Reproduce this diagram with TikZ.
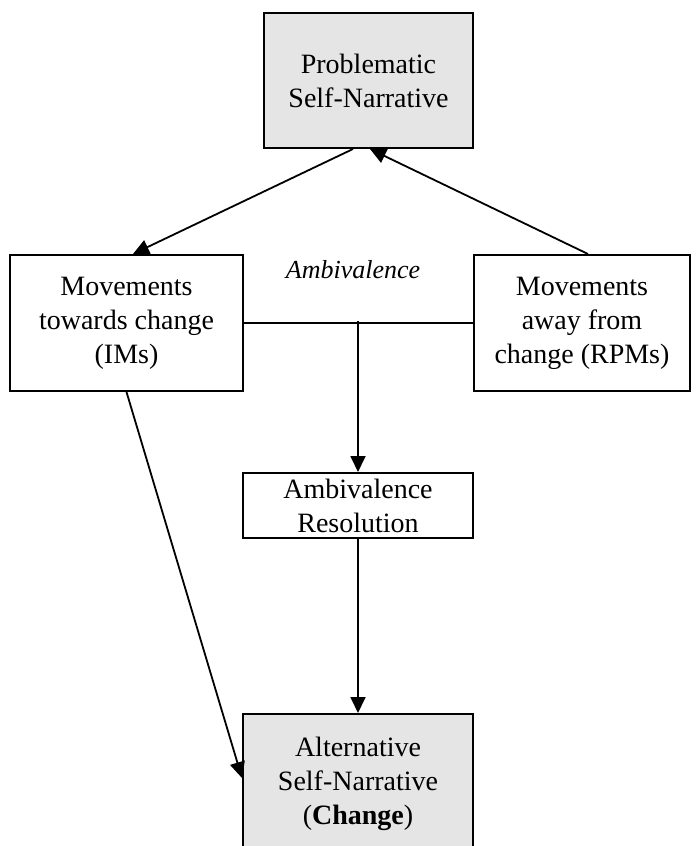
\documentclass[tikz,border=0pt]{standalone}
\usepackage{fontspec}
\setmainfont{Liberation Serif}
\usetikzlibrary{arrows.meta}
\begin{document}
\begin{tikzpicture}[x=0.5pt,y=-0.5pt,
  box/.style={draw=black,line width=1pt,align=center,inner sep=0pt,
    font=\fontsize{14}{17}\selectfont},
  graybox/.style={box,fill=gray!20},
  conn/.style={line width=0.9pt},
  arr/.style={conn,-{Triangle[length=8pt,width=7.5pt]}}]
\useasboundingbox (0,0) rectangle (697,846);
\clip (0,0) rectangle (697,846);
\node[graybox,minimum width=104.5pt,minimum height=67.5pt] (top) at (368.5,80.5) {Problematic\\Self-Narrative};
\node[box,minimum width=116.5pt,minimum height=68pt] (left) at (126.5,323) {Movements\\towards change\\(IMs)};
\node[box,minimum width=108pt,minimum height=68pt] (right) at (582,323) {Movements\\away from\\change (RPMs)};
\node[box,minimum width=115pt,minimum height=32.5pt] (res) at (358,505.5) {Ambivalence\\Resolution};
\node[graybox,minimum width=115pt,minimum height=70pt] (alt) at (358,784) {Alternative\\Self-Narrative\\(\textbf{Change})};
\node[font=\fontsize{13}{15}\selectfont\itshape] (amb) at (353,270) {Ambivalence};
\coordinate (ambmid) at (358,321);
\draw[conn] (left.east) -- (right.west);
\draw[arr] (ambmid) -- (res.north);
\draw[arr] (res.south) -- (alt.north);
\draw[arr] ([xshift=-7.75pt]top.south) -- ([xshift=3.25pt]left.north);
\draw[arr] ([xshift=3pt]right.north) -- ([xshift=0.75pt]top.south);
\draw[arr] (left.south) -- ([yshift=3pt]alt.west);
\end{tikzpicture}
\end{document}
